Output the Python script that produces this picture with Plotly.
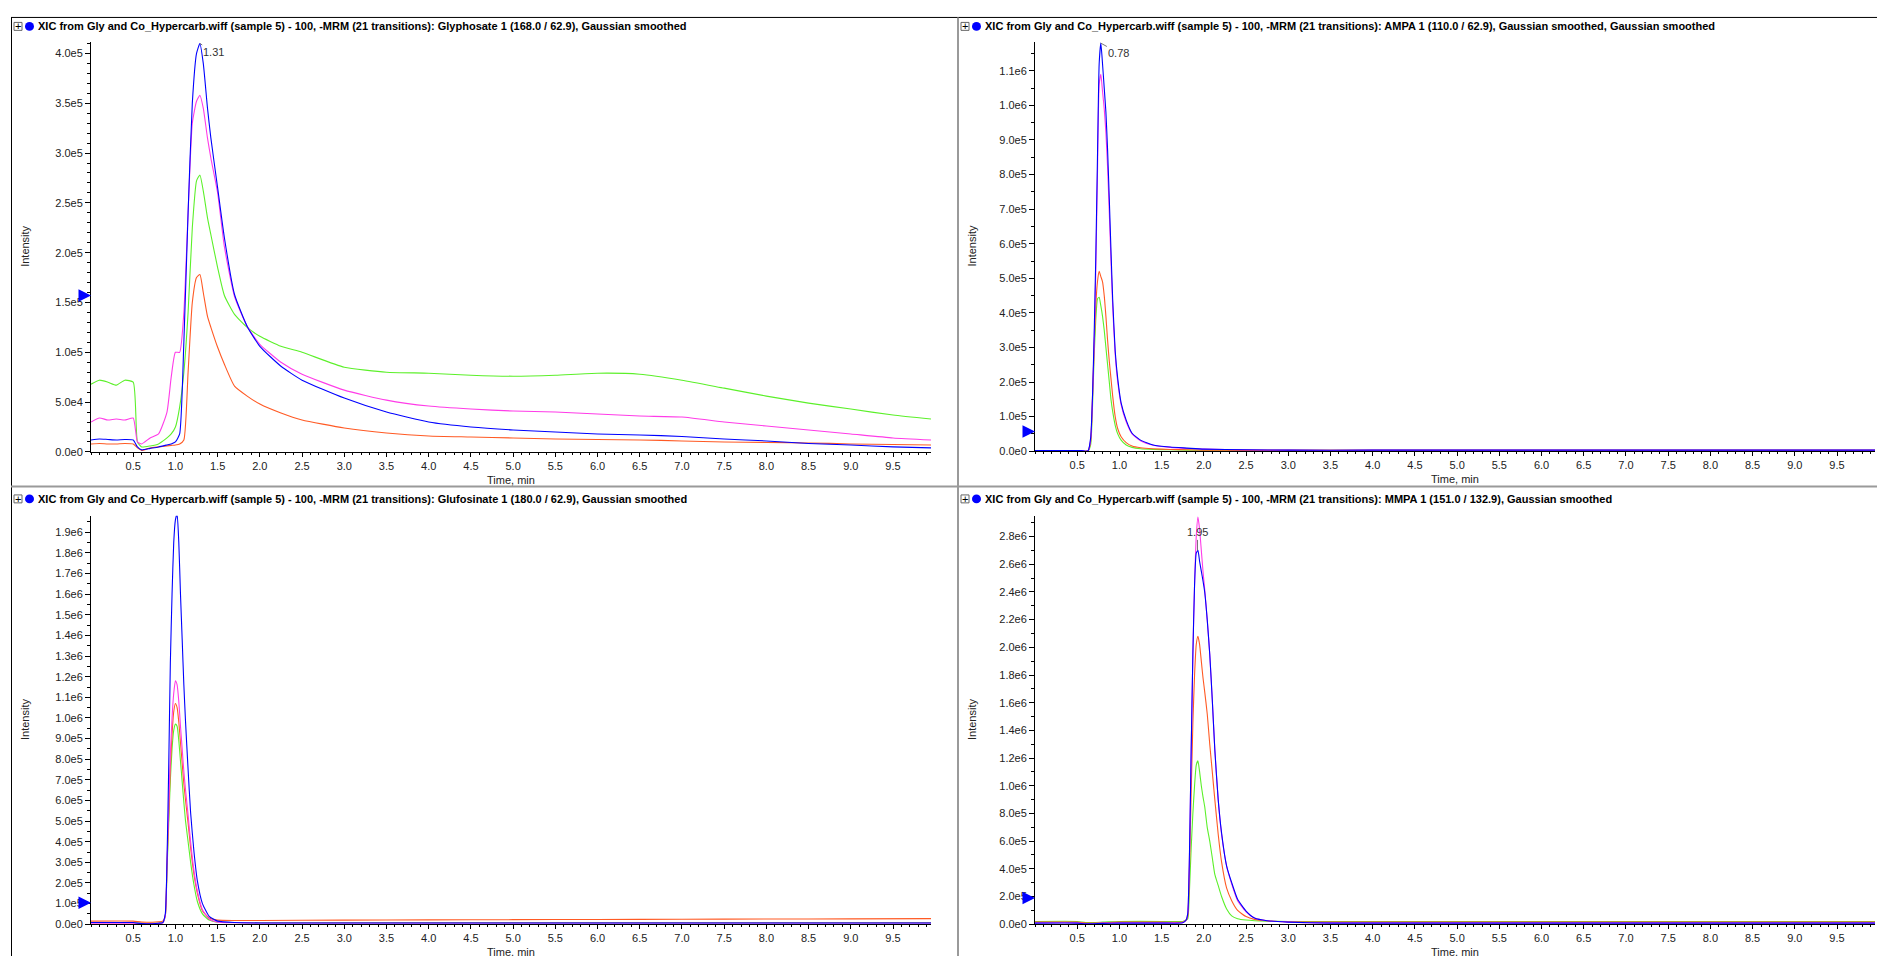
import plotly.graph_objects as go

W, H = 1885, 956
FONT = "Liberation Sans, Arial, sans-serif"
TITLE_FONT = "Liberation Sans Narrow, Arial Narrow, Liberation Sans, sans-serif"

# ---------------- Glyphosate (top-left) ----------------
t_gly = [0.0, 0.1, 0.2, 0.3, 0.4, 0.5, 0.55, 0.6, 0.7, 0.8, 0.9, 0.95, 1.0, 1.05, 1.1, 1.15, 1.2, 1.25,
         1.29, 1.33, 1.38, 1.42, 1.5, 1.58, 1.7, 1.85, 2.0, 2.25, 2.5, 3.0, 3.5, 4.0, 4.5, 5.0, 5.5, 6.0,
         6.5, 7.0, 7.5, 8.0, 8.5, 9.0, 9.5, 9.95]
gly_blue = [12000, 13000, 12500, 12000, 12500, 12000, 5000, 2000, 3500, 5000, 7000, 8000,
            10000, 18000, 110000, 240000, 350000, 400000, 410000, 390000, 345000, 315000, 265000, 215000,
            158000, 126000, 106000, 86000, 72000, 54000, 40000, 30000, 25000, 22000, 20000, 18000,
            17000, 15500, 13000, 11000, 8500, 7000, 5000, 4000]
gly_magenta = [30000, 34000, 32000, 33000, 32000, 34000, 10000, 8000, 14000, 18000, 40000, 75000,
               100000, 100000, 140000, 240000, 330000, 352000, 358000, 345000, 315000, 295000, 260000, 206000,
               156000, 126000, 108000, 90000, 78000, 62000, 52000, 46000, 43000, 41000, 40000, 38000,
               36000, 35000, 30000, 26000, 22000, 18000, 14000, 12000]
gly_green = [68000, 72000, 70000, 67000, 72000, 70000, 10000, 5000, 6000, 8000, 14000, 18000,
             25000, 45000, 80000, 140000, 225000, 272000, 278000, 262000, 235000, 218000, 185000, 157000,
             138000, 125000, 116000, 106000, 100000, 85000, 80000, 79000, 77000, 76000, 77000, 79000,
             78000, 72000, 64000, 56000, 49000, 43000, 37000, 33000]
gly_orange = [8000, 8500, 8000, 8000, 8500, 8000, 4000, 1500, 4000, 5000, 6000, 6500,
              7000, 8000, 12000, 80000, 150000, 175000, 178000, 160000, 136000, 125000, 105000, 88000,
              66000, 56000, 48000, 39000, 32000, 24000, 19000, 16000, 15000, 14000, 13000, 12500,
              12000, 11000, 10000, 9500, 9000, 8000, 7500, 7000]
gly_yvals = [0, 50000, 100000, 150000, 200000, 250000, 300000, 350000, 400000]
gly_ytext = ["0.0e0", "5.0e4", "1.0e5", "1.5e5", "2.0e5", "2.5e5", "3.0e5", "3.5e5", "4.0e5"]

# ---------------- AMPA (top-right) ----------------
t_ampa = [0.0, 0.3, 0.55, 0.6, 0.63, 0.66, 0.68, 0.70, 0.72, 0.74, 0.76, 0.78, 0.80, 0.82, 0.84, 0.86,
          0.88, 0.90, 0.92, 0.95, 0.98, 1.02, 1.08, 1.15, 1.25, 1.4, 1.6, 1.8, 2.0, 2.5, 3.0, 4.0, 5.0,
          6.0, 7.0, 8.0, 9.0, 9.95]
ampa_blue = [2000, 2000, 2000, 0, 2000, 40000, 150000, 330000, 560000, 850000, 1120000, 1180000,
             1120000, 1050000, 980000, 870000, 730000, 580000, 440000, 290000, 210000, 140000, 90000, 52000,
             32000, 18000, 12000, 9000, 6000, 4000, 3000, 3000, 3000, 3000, 3000, 3000, 3000, 3000]
ampa_magenta = [2000, 2000, 2000, 0, 2000, 35000, 140000, 300000, 520000, 800000, 1060000, 1090000,
                1040000, 990000, 920000, 820000, 690000, 550000, 420000, 280000, 200000, 135000, 85000, 50000,
                30000, 17000, 11000, 8000, 6000, 4000, 3000, 3000, 3000, 3000, 3000, 3000, 3000, 3000]
ampa_orange = [1000, 1000, 1000, 0, 2000, 30000, 150000, 300000, 420000, 490000, 520000, 505000,
               490000, 450000, 390000, 320000, 260000, 210000, 160000, 100000, 65000, 42000, 25000, 15000,
               10000, 7000, 5000, 4000, 3000, 2500, 2500, 2500, 2500, 2500, 2500, 2500, 2500, 2500]
ampa_green = [1000, 1000, 1000, 0, 1000, 20000, 120000, 270000, 380000, 440000, 445000, 420000,
              390000, 350000, 300000, 250000, 200000, 150000, 115000, 75000, 50000, 32000, 18000, 11000,
              7000, 5000, 4000, 3000, 3000, 2500, 2500, 2500, 2500, 2500, 2500, 2500, 2500, 2500]
ampa_yvals = [0, 100000, 200000, 300000, 400000, 500000, 600000, 700000, 800000, 900000, 1000000, 1100000]
ampa_ytext = ["0.0e0", "1.0e5", "2.0e5", "3.0e5", "4.0e5", "5.0e5", "6.0e5", "7.0e5", "8.0e5", "9.0e5",
              "1.0e6", "1.1e6"]

# ---------------- Glufosinate (bottom-left) ----------------
t_glu = [0.0, 0.5, 0.6, 0.8, 0.85, 0.88, 0.90, 0.92, 0.94, 0.96, 0.98, 1.00, 1.02, 1.04, 1.06, 1.08,
         1.10, 1.12, 1.15, 1.18, 1.22, 1.26, 1.32, 1.4, 1.5, 1.7, 2.0, 3.0, 4.0, 5.0, 6.0, 7.0, 8.0, 9.0, 9.95]
glu_blue = [8000, 8000, 3000, 5000, 8000, 50000, 300000, 750000, 1270000, 1600000, 1850000, 1960000,
            1990000, 1850000, 1600000, 1380000, 1160000, 980000, 750000, 540000, 350000, 210000, 100000, 38000,
            15000, 8000, 6000, 6000, 6000, 6000, 6000, 6000, 6000, 6000, 6000]
glu_magenta = [5000, 5000, 2000, 4000, 6000, 40000, 300000, 560000, 820000, 1000000, 1120000, 1180000,
               1160000, 1080000, 960000, 850000, 740000, 650000, 530000, 400000, 260000, 160000, 70000, 25000,
               10000, 7000, 6000, 6000, 6000, 6000, 6000, 6000, 6000, 6000, 6000]
glu_orange = [15000, 15000, 10000, 12000, 15000, 40000, 280000, 520000, 760000, 920000, 1030000, 1070000,
              1050000, 980000, 880000, 780000, 680000, 600000, 490000, 370000, 240000, 150000, 65000, 30000,
              20000, 18000, 18000, 20000, 21000, 22000, 23000, 24000, 25000, 26000, 27000]
glu_green = [8000, 8000, 4000, 6000, 8000, 40000, 260000, 480000, 700000, 850000, 940000, 970000,
             960000, 890000, 790000, 690000, 590000, 500000, 400000, 300000, 190000, 110000, 50000, 20000,
             10000, 8000, 8000, 8000, 8000, 8000, 8000, 8000, 8000, 8000, 8000]
glu_yvals = [0, 100000, 200000, 300000, 400000, 500000, 600000, 700000, 800000, 900000, 1000000,
             1100000, 1200000, 1300000, 1400000, 1500000, 1600000, 1700000, 1800000, 1900000]
glu_ytext = ["0.0e0", "1.0e5", "2.0e5", "3.0e5", "4.0e5", "5.0e5", "6.0e5", "7.0e5", "8.0e5", "9.0e5",
             "1.0e6", "1.1e6", "1.2e6", "1.3e6", "1.4e6", "1.5e6", "1.6e6", "1.7e6", "1.8e6", "1.9e6"]

# ---------------- MMPA (bottom-right) ----------------
t_mmpa = [0.0, 0.5, 0.6, 0.8, 1.0, 1.5, 1.75, 1.79, 1.81, 1.83, 1.85, 1.87, 1.89, 1.91, 1.93, 1.95,
          1.97, 1.99, 2.01, 2.04, 2.07, 2.10, 2.13, 2.17, 2.21, 2.27, 2.33, 2.40, 2.50, 2.60, 2.75, 3.0,
          3.5, 4.0, 5.0, 6.0, 7.0, 8.0, 9.0, 9.95]
mmpa_magenta = [10000, 10000, 5000, 8000, 10000, 10000, 12000, 30000, 80000, 500000, 1250000, 1950000,
                2450000, 2800000, 2940000, 2850000, 2700000, 2550000, 2420000, 2200000, 1950000, 1620000,
                1260000, 900000, 650000, 420000, 290000, 170000, 90000, 45000, 25000, 15000, 10000, 10000,
                10000, 10000, 10000, 10000, 10000, 10000]
mmpa_blue = [8000, 8000, 3000, 6000, 8000, 8000, 10000, 30000, 80000, 520000, 1260000, 1950000,
             2450000, 2680000, 2700000, 2620000, 2550000, 2480000, 2400000, 2200000, 1950000, 1620000,
             1260000, 900000, 660000, 420000, 300000, 180000, 95000, 45000, 25000, 15000, 8000, 8000,
             8000, 8000, 8000, 8000, 8000, 8000]
mmpa_orange = [15000, 15000, 8000, 10000, 15000, 15000, 15000, 30000, 60000, 400000, 950000, 1450000,
               1800000, 2020000, 2080000, 2020000, 1900000, 1780000, 1680000, 1520000, 1300000, 1100000,
               900000, 650000, 450000, 260000, 170000, 100000, 55000, 35000, 25000, 18000, 15000, 15000,
               15000, 15000, 15000, 15000, 15000, 15000]
mmpa_green = [20000, 20000, 12000, 15000, 20000, 20000, 20000, 30000, 40000, 250000, 550000, 800000,
              1000000, 1150000, 1180000, 1100000, 1000000, 920000, 850000, 700000, 600000, 480000,
              360000, 280000, 200000, 110000, 60000, 40000, 30000, 25000, 22000, 20000, 20000, 20000,
              20000, 20000, 20000, 20000, 20000, 20000]
mmpa_yvals = [0, 200000, 400000, 600000, 800000, 1000000, 1200000, 1400000, 1600000, 1800000, 2000000,
              2200000, 2400000, 2600000, 2800000]
mmpa_ytext = ["0.0e0", "2.0e5", "4.0e5", "6.0e5", "8.0e5", "1.0e6", "1.2e6", "1.4e6", "1.6e6", "1.8e6",
              "2.0e6", "2.2e6", "2.4e6", "2.6e6", "2.8e6"]

# shared x ticks
x_tickvals = [0.5, 1.0, 1.5, 2.0, 2.5, 3.0, 3.5, 4.0, 4.5, 5.0, 5.5, 6.0, 6.5, 7.0, 7.5, 8.0, 8.5, 9.0, 9.5]
x_ticktext = ["0.5", "1.0", "1.5", "2.0", "2.5", "3.0", "3.5", "4.0", "4.5", "5.0", "5.5", "6.0", "6.5",
              "7.0", "7.5", "8.0", "8.5", "9.0", "9.5"]

title_prefix = "XIC from Gly and Co_Hypercarb.wiff (sample 5) - 100, -MRM (21 transitions): "
titles = [
    "Glyphosate 1 (168.0 / 62.9), Gaussian smoothed",
    "AMPA 1 (110.0 / 62.9), Gaussian smoothed, Gaussian smoothed",
    "Glufosinate 1 (180.0 / 62.9), Gaussian smoothed",
    "MMPA 1 (151.0 / 132.9), Gaussian smoothed",
]
peak_labels = ["1.31", "0.78", "1.03", "1.95"]
peak_times = [1.29, 0.78, 1.02, 1.925]
peak_heights = [410000, 1180000, 1990000, 2700000]
arrow_levels = [157000, 57000, 104000, 190000]

COLORS = ["#5CF02A", "#FF5A24", "#FF3CE8", "#0000FF"]  # green, orange, magenta, blue

panels = [
    dict(t=t_gly, s=[gly_green, gly_orange, gly_magenta, gly_blue], yv=gly_yvals, yt=gly_ytext,
         ymax=411700, yminor=10000, px=(83, 923), py=(34, 446.7), tpy=18.5, tpx=0, pk=(14, 9)),
    dict(t=t_ampa, s=[ampa_green, ampa_orange, ampa_magenta, ampa_blue], yv=ampa_yvals, yt=ampa_ytext,
         ymax=1184000, yminor=50000, px=(1027, 1867), py=(34, 446), tpy=18.5, tpx=947, pk=(18, 10)),
    dict(t=t_glu, s=[glu_green, glu_orange, glu_magenta, glu_blue], yv=glu_yvals, yt=glu_ytext,
         ymax=1980000, yminor=50000, px=(83, 923), py=(511, 922), tpy=494, tpx=0, pk=(16, 13)),
    dict(t=t_mmpa, s=[mmpa_green, mmpa_orange, mmpa_magenta, mmpa_blue], yv=mmpa_yvals, yt=mmpa_ytext,
         ymax=2950000, yminor=100000, px=(1027, 1867), py=(511, 922), tpy=494, tpx=947, pk=(0, -18)),
]


def fx(p):
    return p / W


def fy(p):
    return 1 - p / H


fig = go.Figure()
annotations = []
shapes = []
layout = {}
tick_font = dict(family=FONT, size=11, color="#222222")

for i, p in enumerate(panels):
    n = i + 1
    xa = "x" if n == 1 else f"x{n}"
    ya = "y" if n == 1 else f"y{n}"
    for vals, col in zip(p["s"], COLORS):
        fig.add_trace(go.Scatter(x=p["t"], y=vals, mode="lines", xaxis=xa, yaxis=ya,
                                 line=dict(color=col, width=1.1, shape="spline", smoothing=0.5),
                                 showlegend=False, hoverinfo="skip"))
    layout["xaxis" if n == 1 else f"xaxis{n}"] = dict(
        domain=[fx(p["px"][0]), fx(p["px"][1])], anchor=ya, range=[0, 9.95],
        tickmode="array", tickvals=x_tickvals, ticktext=x_ticktext, ticks="outside", ticklen=4,
        tickcolor="#000", showline=True, linecolor="#000", linewidth=1, showgrid=False, zeroline=False,
        tickfont=tick_font, fixedrange=True,
        minor=dict(tickmode="linear", tick0=0, dtick=0.1, ticks="outside", ticklen=2, tickcolor="#000",
                   showgrid=False))
    layout["yaxis" if n == 1 else f"yaxis{n}"] = dict(
        domain=[fy(p["py"][1]), fy(p["py"][0])], anchor=xa, range=[0, p["ymax"]],
        tickmode="array", tickvals=p["yv"], ticktext=p["yt"], ticks="outside", ticklen=5,
        tickcolor="#000", showline=True, linecolor="#000", linewidth=1, showgrid=False, zeroline=False,
        tickfont=tick_font, fixedrange=True,
        minor=dict(tickmode="linear", tick0=0, dtick=p["yminor"], ticks="outside", ticklen=3,
                   tickcolor="#000", showgrid=False))

    # panel title: [+] box, blue dot, bold text
    bx = p["tpx"] + 6
    cy = p["tpy"]
    shapes.append(dict(type="rect", xref="paper", yref="paper", x0=fx(bx), x1=fx(bx + 8),
                       y0=fy(cy + 4), y1=fy(cy - 4), line=dict(color="#666", width=1)))
    annotations.append(dict(x=fx(bx + 4), y=fy(cy), xref="paper", yref="paper", text="+",
                            showarrow=False, font=dict(family=FONT, size=11, color="#000"),
                            xanchor="center", yanchor="middle"))
    shapes.append(dict(type="circle", xref="paper", yref="paper", x0=fx(bx + 11), x1=fx(bx + 20),
                       y0=fy(cy + 4.5), y1=fy(cy - 4.5), fillcolor="#0000FF", line=dict(color="#0000FF", width=0)))
    annotations.append(dict(x=fx(bx + 22), y=fy(cy), xref="paper", yref="paper",
                            text="<b>" + title_prefix + titles[i] + "</b>", showarrow=False,
                            font=dict(family=TITLE_FONT, size=11, color="#000"),
                            xanchor="left", yanchor="middle"))
    # axis titles
    annotations.append(dict(x=fx(p["tpx"] + 17), y=fy((p["py"][0] + p["py"][1]) / 2), xref="paper",
                            yref="paper", text="Intensity", textangle=-90, showarrow=False,
                            font=dict(family=FONT, size=11, color="#222"), xanchor="center", yanchor="middle"))
    annotations.append(dict(x=fx((p["px"][0] + p["px"][1]) / 2), y=fy(p["py"][1] + 20), xref="paper",
                            yref="paper", text="Time, min", showarrow=False,
                            font=dict(family=FONT, size=11, color="#222"), xanchor="center", yanchor="top"))
    # peak label
    annotations.append(dict(x=peak_times[i], y=peak_heights[i], xref=xa, yref=ya, text=peak_labels[i],
                            showarrow=True, arrowhead=0, arrowwidth=1, arrowcolor="#777",
                            ax=p["pk"][0], ay=p["pk"][1], font=dict(family=FONT, size=11, color="#333")))
    # blue arrow marker at y-axis
    annotations.append(dict(x=0, y=arrow_levels[i], xref=xa, yref=ya, text="", showarrow=True,
                            arrowhead=2, arrowsize=1, arrowwidth=2.5, arrowcolor="#0000FF",
                            ax=-11, ay=0, standoff=0))

# frame / separators
shapes += [
    dict(type="line", xref="paper", yref="paper", x0=fx(3), x1=1, y0=fy(9.5), y1=fy(9.5),
         line=dict(color="#000", width=1)),
    dict(type="line", xref="paper", yref="paper", x0=fx(3.5), x1=fx(3.5), y0=0, y1=fy(9.5),
         line=dict(color="#000", width=1)),
    dict(type="line", xref="paper", yref="paper", x0=fx(950), x1=fx(950), y0=0, y1=fy(9.5),
         line=dict(color="#9a9a9a", width=2)),
    dict(type="line", xref="paper", yref="paper", x0=fx(3), x1=1, y0=fy(481.5), y1=fy(481.5),
         line=dict(color="#9a9a9a", width=2)),
]

fig.update_layout(width=W, height=H, autosize=False, margin=dict(l=0, r=0, t=0, b=0),
                  paper_bgcolor="#ffffff", plot_bgcolor="#ffffff", showlegend=False,
                  annotations=annotations, shapes=shapes, **layout)

fig.write_html("out.html")
